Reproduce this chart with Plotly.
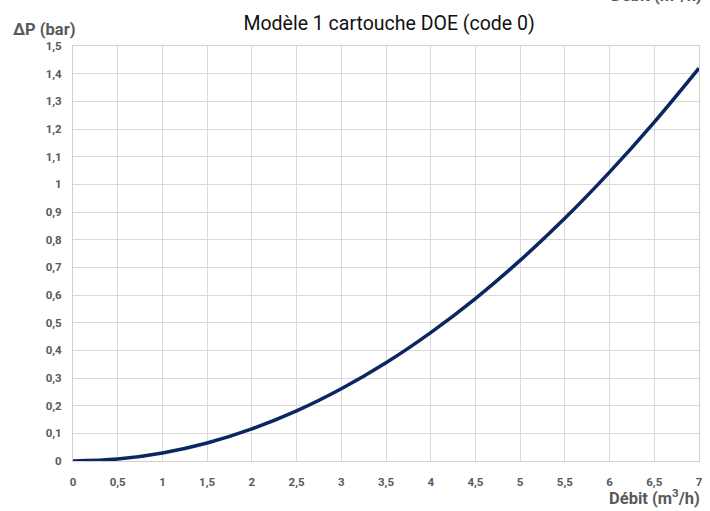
import plotly.graph_objects as go

debit = [0, 0.5, 1, 1.5, 2, 2.5, 3, 3.5, 4, 4.5, 5, 5.5, 6, 6.5, 7]
delta_p = [0, 0.007, 0.029, 0.065, 0.116, 0.181, 0.261, 0.355, 0.464, 0.587, 0.725, 0.877, 1.044, 1.225, 1.42]

x_ticks = [0, 0.5, 1, 1.5, 2, 2.5, 3, 3.5, 4, 4.5, 5, 5.5, 6, 6.5, 7]
x_labels = ["0", "0,5", "1", "1,5", "2", "2,5", "3", "3,5", "4", "4,5", "5", "5,5", "6", "6,5", "7"]
y_ticks = [round(i * 0.1, 1) for i in range(16)]
y_labels = [("%g" % v).replace(".", ",") for v in y_ticks]

FONT = "Roboto, Arial, sans-serif"
tick_font = dict(family=FONT, size=11.5, color="#595959", weight="bold")
label_font = dict(family=FONT, size=16.5, color="#595959", weight="bold")

fig = go.Figure()
fig.add_trace(go.Scatter(x=debit, y=delta_p, mode="lines",
                         line=dict(color="#0b2762", width=3.5, shape="spline"),
                         showlegend=False, hoverinfo="x+y"))

fig.update_layout(
    width=710, height=511,
    margin=dict(l=73, r=7, t=46, b=50),
    plot_bgcolor="white", paper_bgcolor="white",
    title=dict(text="Modèle 1 cartouche DOE (code 0)", x=0.548, xanchor="center",
               y=0.955, yanchor="middle",
               font=dict(family=FONT, size=19.5, color="#111111")),
    xaxis=dict(range=[0, 7], tickvals=x_ticks, ticktext=x_labels, tickfont=tick_font,
               showgrid=True, gridcolor="#d9d9d9", gridwidth=1,
               showline=True, linecolor="#d0d0d0", linewidth=1, mirror=True,
               zeroline=False, ticks="", ticklen=0, ticklabelstandoff=10),
    yaxis=dict(range=[0, 1.5], tickvals=y_ticks, ticktext=y_labels, tickfont=tick_font,
               showgrid=True, gridcolor="#d9d9d9", gridwidth=1,
               showline=True, linecolor="#d0d0d0", linewidth=1, mirror=True,
               zeroline=False, ticks="", ticklen=0, ticklabelstandoff=8),
    annotations=[
        dict(text="ΔP (bar)", xref="paper", yref="paper", x=0.008, y=1.012,
             xanchor="right", yanchor="bottom", showarrow=False, font=label_font),
        dict(text="Débit (m<sup>3</sup>/h)", xref="paper", yref="paper", x=1.004, y=-0.086,
             xanchor="right", yanchor="middle", showarrow=False, font=label_font),
        dict(text="Débit (m<sup>3</sup>/h)", xref="paper", yref="paper", x=1.008, y=1.095,
             xanchor="right", yanchor="bottom", showarrow=False, font=label_font),
    ],
)

fig.write_html("out.html",
               config={"displayModeBar": False},
               post_script="document.body.style.margin='0';document.body.style.padding='0';document.body.style.overflow='hidden';")
